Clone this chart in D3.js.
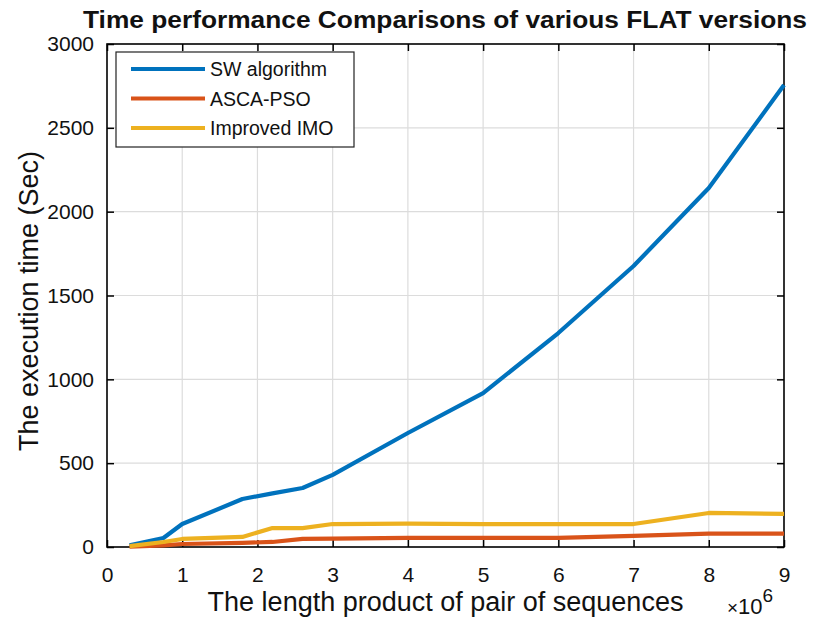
<!DOCTYPE html>
<html>
<head>
<meta charset="utf-8">
<script src="https://cdn.jsdelivr.net/npm/d3@7"></script>
<style>
  body { margin: 0; background: #fff; }
  text { font-family: "Liberation Sans", Arial, sans-serif; fill: #111; }
</style>
</head>
<body>
<div id="graf"></div>
<script>
// data (x in units of 1e6)
const lengths = [0.3, 0.75, 1, 1.8, 2.2, 2.6, 3, 4, 5, 6, 7, 8, 9]
const swAlgorithm = [10, 54, 137, 286, 320, 352, 430, 680, 918, 1276, 1676, 2141, 2755]
const ascaPso = [2, 10, 18, 25, 30, 48, 50, 54, 54, 54, 66, 80, 80]
const improvedImo = [5, 30, 48, 60, 113, 113, 137, 140, 137, 137, 137, 203, 197]
const seriesNames = ["SW algorithm", "ASCA-PSO", "Improved IMO"]
const seriesColors = ["#0072BD", "#D95319", "#EDB120"]
const xTicks = [0, 1, 2, 3, 4, 5, 6, 7, 8, 9]
const yTicks = [0, 500, 1000, 1500, 2000, 2500, 3000]

const anchoTotal = 816
const altoTotal = 620
const margins = { left: 107, top: 44, right: 32, bottom: 73 }
const ancho = anchoTotal - margins.left - margins.right
const alto = altoTotal - margins.top - margins.bottom

const svg = d3.select("#graf")
  .append("svg")
  .attr("width", anchoTotal)
  .attr("height", altoTotal)

const g = svg.append("g")
  .attr("transform", `translate(${margins.left}, ${margins.top})`)

const x = d3.scaleLinear().domain([0, 9]).range([0, ancho])
const y = d3.scaleLinear().domain([0, 3000]).range([alto, 0])

// grid
g.append("g").selectAll("line")
  .data(xTicks.slice(1, -1))
  .join("line")
  .attr("x1", d => x(d)).attr("x2", d => x(d))
  .attr("y1", 0).attr("y2", alto)
  .attr("stroke", "#dcdcdc").attr("stroke-width", 1.2)
g.append("g").selectAll("line")
  .data(yTicks.slice(1, -1))
  .join("line")
  .attr("y1", d => y(d)).attr("y2", d => y(d))
  .attr("x1", 0).attr("x2", ancho)
  .attr("stroke", "#dcdcdc").attr("stroke-width", 1.2)

// axes
const styleAxis = sel => {
  sel.select(".domain").remove()
  sel.selectAll(".tick line").attr("stroke", "#000").attr("stroke-width", 1.5)
  sel.selectAll(".tick text").attr("font-size", 21).attr("fill", "#111")
    .attr("font-family", "'Liberation Sans', Arial, sans-serif")
}
g.append("g").attr("transform", `translate(0, ${alto})`)
  .call(d3.axisBottom(x).tickValues(xTicks).tickSizeInner(-7).tickSizeOuter(0).tickPadding(20))
  .call(styleAxis)
g.append("g")
  .call(d3.axisTop(x).tickValues(xTicks).tickSizeInner(-7).tickSizeOuter(0).tickFormat(""))
  .call(styleAxis)
g.append("g")
  .call(d3.axisLeft(y).tickValues(yTicks).tickSizeInner(-7).tickSizeOuter(0).tickPadding(13).tickFormat(d3.format("d")))
  .call(styleAxis)
g.append("g").attr("transform", `translate(${ancho}, 0)`)
  .call(d3.axisRight(y).tickValues(yTicks).tickSizeInner(-7).tickSizeOuter(0).tickFormat(""))
  .call(styleAxis)

g.append("rect")
  .attr("width", ancho).attr("height", alto)
  .attr("fill", "none").attr("stroke", "#000").attr("stroke-width", 1.6)

// lines
const series = [swAlgorithm, ascaPso, improvedImo]
const line = d3.line().x((d, i) => x(lengths[i])).y(d => y(d))
g.selectAll(".serie")
  .data(series)
  .join("path")
  .attr("class", "serie")
  .attr("d", d => line(d))
  .attr("fill", "none")
  .attr("stroke", (d, i) => seriesColors[i])
  .attr("stroke-width", 4.2)
  .attr("stroke-linejoin", "round")

// legend
const leg = g.append("g").attr("transform", "translate(9, 8)")
leg.append("rect")
  .attr("width", 238).attr("height", 95)
  .attr("fill", "#fff").attr("stroke", "#222").attr("stroke-width", 1.2)
seriesNames.forEach((name, i) => {
  const yy = 17 + i * 29.5
  leg.append("line")
    .attr("x1", 15).attr("x2", 89).attr("y1", yy).attr("y2", yy)
    .attr("stroke", seriesColors[i]).attr("stroke-width", 4.2)
  leg.append("text")
    .attr("x", 94).attr("y", yy + 7)
    .attr("font-size", 19.5)
    .text(name)
})

// title and labels
svg.append("text")
  .attr("x", 83).attr("y", 28)
  .attr("font-size", 23).attr("font-weight", "bold")
  .attr("textLength", 724).attr("lengthAdjust", "spacingAndGlyphs")
  .text("Time performance Comparisons of various FLAT versions")

svg.append("text")
  .attr("x", margins.left + ancho / 2).attr("y", 611)
  .attr("text-anchor", "middle")
  .attr("font-size", 27)
  .text("The length product of pair of sequences")

svg.append("text")
  .attr("transform", `translate(38, 301) rotate(-90)`)
  .attr("text-anchor", "middle")
  .attr("font-size", 27)
  .text("The execution time (Sec)")

const expo = svg.append("text")
  .attr("x", 727).attr("y", 614)
  .attr("font-size", 22)
expo.append("tspan").attr("font-size", 19).text("\u00d7")
expo.append("tspan").text("10")
expo.append("tspan").attr("dy", -12).attr("font-size", 19).text("6")
</script>
</body>
</html>
